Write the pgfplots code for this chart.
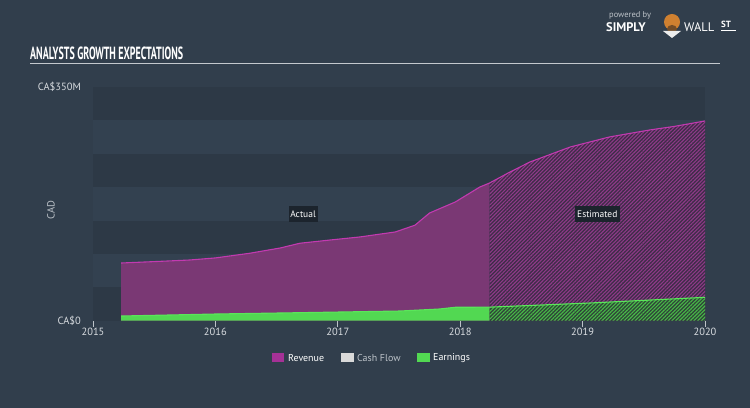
\documentclass[border=0pt]{standalone}
\usepackage{pgfplots}
\pgfplotsset{compat=1.18}
\usetikzlibrary{patterns.meta}
\usepackage{fontspec}
\setmainfont{PT Sans}
\definecolor{bg}{HTML}{313E4C}
\definecolor{banddark}{HTML}{2D3946}
\definecolor{bandlight}{HTML}{334150}
\definecolor{revfill}{HTML}{7A3874}
\definecolor{revline}{HTML}{C23AB0}
\definecolor{revhatchbg}{HTML}{3E2C48}
\definecolor{revstripe}{HTML}{8E3A88}
\definecolor{earnfill}{HTML}{52D852}
\definecolor{earnline}{HTML}{5AE65A}
\definecolor{earnhatchbg}{HTML}{2E4638}
\definecolor{earnstripe}{HTML}{48B848}
\definecolor{axisgray}{HTML}{BCC2C8}
\definecolor{labelgray}{HTML}{D8DCE0}
\definecolor{boxbg}{HTML}{1C242D}
\begin{document}
\begin{tikzpicture}
\fill[bg] (0bp,0bp) rectangle (750bp,408bp);
\useasboundingbox (0bp,0bp) rectangle (750bp,408bp);
% title
\node[anchor=base west, inner sep=0pt, text=white] at (30bp,348.7bp)
  {\resizebox{153bp}{12.6bp}{\bfseries ANALYSTS GROWTH EXPECTATIONS}};
\draw[color=axisgray!90!white, line width=1.6bp] (30bp,344.3bp) -- (720bp,344.3bp);
% logo
\node[anchor=base west, inner sep=0pt, text=axisgray, font=\fontsize{8.5}{9}\selectfont] at (609bp,390bp) {powered by};
\node[anchor=base west, inner sep=0pt, text=white, font=\bfseries\fontsize{12.5}{13}\selectfont] at (606bp,376bp) {SIMPLY};
\fill[brown!75!orange] (672bp,386bp) circle (8bp);
\fill[brown!60!black] (672bp,379bp) ellipse (5bp and 4bp);
\fill[white!85!gray] (672bp,370bp) -- (663bp,377bp) -- (681bp,377bp) -- cycle;
\node[anchor=base west, inner sep=0pt, text=white, font=\fontsize{12.5}{13}\selectfont] at (684bp,376bp) {WALL};
\node[anchor=base west, inner sep=0pt, text=white, font=\bfseries\fontsize{9}{9}\selectfont] at (721bp,380bp) {ST};
\draw[white, line width=0.8bp] (721bp,377.5bp) -- (736bp,377.5bp);
% CAD
\node[rotate=90, text=axisgray, font=\fontsize{10.5}{11}\selectfont] at (51bp,198bp) {CAD};
\begin{axis}[
  at={(93bp,87.3bp)}, anchor=south west, scale only axis,
  width=612bp, height=233.7bp,
  xmin=2015, xmax=2020, ymin=0, ymax=350,
  axis lines=left, axis line style={-},
  x axis line style={draw=axisgray, line width=1.1bp},
  y axis line style={draw=none},
  tick align=outside, major tick length=6bp,
  xtick={2015,2016,2017,2018,2019,2020},
  xticklabels={2015,2016,2017,2018,2019,2020},
  xtick style={draw=axisgray, line width=1bp},
  ytick={0,350}, yticklabels={CA\$0,CA\$350M},
  ytick style={draw=none},
  xticklabel style={text=labelgray, font=\fontsize{10.5}{11}\selectfont, inner sep=0pt, yshift=-1.5bp},
  yticklabel style={text=labelgray, font=\fontsize{10.5}{11}\selectfont, inner sep=0pt, anchor=east, xshift=-6bp},
  /pgf/number format/assume math mode=true,
  clip=false,
]
% bands
\fill[banddark] (axis cs:2015,300) rectangle (axis cs:2020,350);
\fill[bandlight] (axis cs:2015,250) rectangle (axis cs:2020,300);
\fill[banddark] (axis cs:2015,200) rectangle (axis cs:2020,250);
\fill[bandlight] (axis cs:2015,150) rectangle (axis cs:2020,200);
\fill[banddark] (axis cs:2015,100) rectangle (axis cs:2020,150);
\fill[bandlight] (axis cs:2015,50) rectangle (axis cs:2020,100);
\fill[banddark] (axis cs:2015,0) rectangle (axis cs:2020,50);
% revenue actual
\addplot[draw=none, fill=revfill] coordinates {
 (2015.23,86.4) (2015.5,88.5) (2015.79,90.9) (2016.0,94) (2016.28,101) (2016.53,108.9)
 (2016.69,116) (2016.94,120.9) (2017.18,125.4) (2017.47,132.9) (2017.63,143) (2017.75,161.3)
 (2017.96,177.8) (2018.16,200.2) (2018.24,206.2)} \closedcycle;
% revenue estimated
\addplot[draw=none, fill=revhatchbg, postaction={pattern={Lines[angle=45, distance=2.6bp, line width=1.1bp]}, pattern color=revstripe}] coordinates {
 (2018.24,206.2) (2018.4,222) (2018.57,237.7) (2018.9,260.2) (2019.22,275.2) (2019.55,285.7)
 (2019.75,291) (2020,299.1)} \closedcycle;
% revenue line
\addplot[revline, line width=1.1bp] coordinates {
 (2015.23,86.4) (2015.5,88.5) (2015.79,90.9) (2016.0,94) (2016.28,101) (2016.53,108.9)
 (2016.69,116) (2016.94,120.9) (2017.18,125.4) (2017.47,132.9) (2017.63,143) (2017.75,161.3)
 (2017.96,177.8) (2018.16,200.2) (2018.24,206.2) (2018.4,222) (2018.57,237.7) (2018.9,260.2)
 (2019.22,275.2) (2019.55,285.7) (2019.75,291) (2020,299.1)};
% earnings actual
\addplot[draw=none, fill=earnfill] coordinates {
 (2015.23,7.0) (2016.0,10) (2016.69,12) (2017.51,14.5) (2017.83,17.5) (2017.96,20.1) (2018.24,20.3)} \closedcycle;
% earnings estimated
\addplot[draw=none, fill=earnhatchbg, postaction={pattern={Lines[angle=45, distance=2.6bp, line width=1.1bp]}, pattern color=earnstripe}] coordinates {
 (2018.24,20.3) (2019.06,26.5) (2020,35)} \closedcycle;
\addplot[earnline, line width=1.1bp] coordinates {
 (2015.23,7.0) (2016.0,10) (2016.69,12) (2017.51,14.5) (2017.83,17.5) (2017.96,20.1) (2018.24,20.3)
 (2019.06,26.5) (2020,35)};
% labels
\node[fill=boxbg, text=white, font=\fontsize{9.5}{10}\selectfont, minimum width=29bp, minimum height=16bp, inner sep=1bp]
  at (axis cs:2016.716,159.8) {Actual};
\node[fill=boxbg, text=white, font=\fontsize{9.5}{10}\selectfont, minimum width=44.7bp, minimum height=16bp, inner sep=1bp]
  at (axis cs:2019.12,160.2) {Estimated};
\end{axis}
% legend
\fill[revline!85!black] (271.7bp,45.7bp) rectangle (284.3bp,54.7bp);
\node[anchor=west, inner sep=0pt, text=white, font=\fontsize{10}{11}\selectfont] at (288bp,50.2bp) {Revenue};
\fill[gray!30!white] (341bp,45.7bp) rectangle (353.6bp,54.7bp);
\node[anchor=west, inner sep=0pt, text=axisgray, font=\fontsize{10}{11}\selectfont] at (357bp,50.2bp) {Cash Flow};
\fill[earnfill] (417bp,45.7bp) rectangle (429.6bp,54.7bp);
\node[anchor=west, inner sep=0pt, text=white, font=\fontsize{10}{11}\selectfont] at (433bp,50.2bp) {Earnings};
\end{tikzpicture}
\end{document}
